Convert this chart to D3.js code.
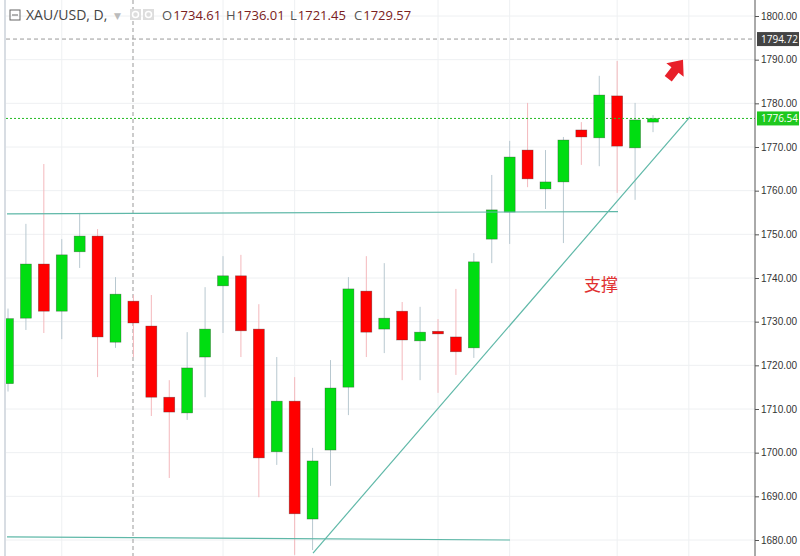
<!DOCTYPE html>
<html><head><meta charset="utf-8">
<script src="https://cdn.jsdelivr.net/npm/d3@7"></script>
<style>body{margin:0;background:#fff;font-family:"Open Sans","DejaVu Sans",sans-serif}</style>
</head><body><svg id="c" width="800" height="556"></svg>
<script>
const opens  = [1715.8,1730.8,1743.2,1732.4,1746.0,1749.6,1725.3,1734.7,1729.0,1712.7,1709.1,1721.9,1738.2,1740.5,1728.3,1700.2,1711.8,1684.8,1700.6,1715.0,1737.0,1728.3,1732.4,1725.6,1727.8,1726.5,1724.0,1748.9,1755.1,1769.3,1760.4,1762.0,1773.9,1772.1,1781.7,1769.8,1775.7];
const closes = [1730.7,1743.2,1732.4,1745.3,1749.6,1726.5,1736.3,1729.7,1712.7,1709.3,1719.4,1728.3,1740.5,1727.9,1698.8,1711.8,1686.0,1698.1,1714.8,1737.5,1727.6,1730.8,1725.8,1727.6,1727.2,1723.1,1743.7,1755.6,1767.7,1762.7,1762.0,1771.6,1772.3,1781.9,1770.2,1776.2,1776.5];
const highs  = [1733.0,1752.4,1766.1,1748.9,1754.9,1751.2,1740.2,1736.1,1736.1,1716.6,1727.6,1737.9,1745.0,1745.3,1734.0,1721.9,1717.3,1701.1,1721.2,1740.2,1745.0,1743.4,1734.5,1733.4,1730.6,1737.5,1745.7,1763.6,1771.4,1780.1,1769.3,1772.3,1775.7,1786.3,1789.7,1780.1,1777.3];
const lows   = [1714.0,1728.1,1727.4,1726.0,1742.3,1717.3,1724.0,1721.9,1708.4,1694.2,1707.5,1712.7,1727.4,1721.9,1689.8,1697.2,1676.6,1677.7,1692.4,1708.6,1721.9,1722.8,1716.6,1716.6,1713.7,1717.8,1721.7,1743.4,1747.8,1760.8,1755.8,1748.0,1765.9,1765.6,1759.5,1757.9,1773.4];
const yTicks = [1680,1690,1700,1710,1720,1730,1740,1750,1760,1770,1780,1790,1800];
const gridIdx = [3,12,16,24,28,34,38];
const lastPrice = 1776.54, markPrice = 1794.72;
const ohlcLabels = ["O","H","L","C"];
const ohlcValues = ["1734.61","1736.01","1721.45","1729.57"];

const svg = d3.select("#c");
const x = d3.scaleLinear().domain([0,36]).range([8,653]);
const y = d3.scaleLinear().domain([1680,1800]).range([540,16]);
const axisX = 755;
const g = svg.append("g");
g.append("defs").append("clipPath").attr("id","cp").append("rect").attr("x",6).attr("y",0).attr("width",axisX-6).attr("height",556);
g.selectAll(".hg").data(yTicks).join("line").attr("x1",6).attr("x2",axisX).attr("y1",d=>y(d)).attr("y2",d=>y(d)).attr("stroke","#eef0f2");
g.selectAll(".vg").data(gridIdx).join("line").attr("x1",d=>x(d)).attr("x2",d=>x(d)).attr("y1",0).attr("y2",556).attr("stroke","#eef0f2");
g.append("line").attr("x1",5).attr("x2",5).attr("y1",0).attr("y2",556).attr("stroke","#d8dde3").attr("stroke-width",2);
g.append("line").attr("x1",133).attr("x2",133).attr("y1",0).attr("y2",556).attr("stroke","#999").attr("stroke-dasharray","4,3");
g.append("line").attr("x1",6).attr("x2",axisX).attr("y1",y(markPrice)).attr("y2",y(markPrice)).attr("stroke","#999").attr("stroke-dasharray","4,3");
const c = g.append("g").attr("clip-path","url(#cp)");
const idx = d3.range(opens.length);
const col = i => closes[i]>=opens[i] ? "#00dd11" : "#ff0000";
const wcol = i => closes[i]>=opens[i] ? "#b8c8d0" : "#f4b8bc";
c.selectAll(".w").data(idx).join("line").attr("x1",i=>x(i)).attr("x2",i=>x(i)).attr("y1",i=>y(highs[i])).attr("y2",i=>y(lows[i])).attr("stroke",wcol);
c.selectAll(".b").data(idx).join("rect").attr("x",i=>x(i)-5.5).attr("width",11)
 .attr("y",i=>y(Math.max(opens[i],closes[i]))).attr("height",i=>Math.max(1.5,Math.abs(y(opens[i])-y(closes[i]))))
 .attr("fill",col).attr("stroke","#333").attr("stroke-opacity",0.5).attr("stroke-width",0.6);
const tl = "#5fb8a8";
c.append("line").attr("x1",7).attr("x2",618).attr("y1",y(1754.7)).attr("y2",y(1755.2)).attr("stroke",tl).attr("stroke-width",1.2);
c.append("line").attr("x1",7).attr("x2",510).attr("y1",y(1680.7)).attr("y2",y(1680.0)).attr("stroke",tl).attr("stroke-width",1.2);
c.append("line").attr("x1",313).attr("x2",690).attr("y1",y(1677)).attr("y2",y(1776.9)).attr("stroke",tl).attr("stroke-width",1.2);
g.append("line").attr("x1",6).attr("x2",axisX).attr("y1",y(lastPrice)).attr("y2",y(lastPrice)).attr("stroke","#22bb22").attr("stroke-dasharray","2,2");
g.append("path").attr("d","M0,-13 L11,0 L4.5,0 L4.5,11 L-4.5,11 L-4.5,0 L-11,0 Z").attr("fill","#e8202a").attr("transform","translate(675,70) rotate(38)");
g.append("text").attr("x",584).attr("y",291).attr("fill","#e03030").attr("font-size",17).attr("font-family","Noto Sans CJK SC").text("支撑");
g.append("rect").attr("x",axisX).attr("y",0).attr("width",45).attr("height",556).attr("fill","#fff");
g.append("line").attr("x1",axisX).attr("x2",axisX).attr("y1",0).attr("y2",556).attr("stroke","#555");
const ax = d3.axisRight(y).tickValues(yTicks).tickFormat(d3.format(".2f")).tickSize(4);
const ag = g.append("g").attr("transform",`translate(${axisX},0)`).call(ax);
ag.select(".domain").remove();
ag.selectAll("text").attr("font-size",10).attr("fill","#333").attr("x",6);
ag.selectAll("line").attr("stroke","#555");
[[markPrice,"#444"],[lastPrice,"#1ec81e"]].forEach(([v,f])=>{
  g.append("rect").attr("x",axisX+2).attr("y",y(v)-7).attr("width",42).attr("height",14).attr("fill",f);
  g.append("text").attr("x",axisX+6).attr("y",y(v)+4).attr("fill","#fff").attr("font-size",10).text(d3.format(".2f")(v));
});
// header
g.append("rect").attr("x",10).attr("y",10).attr("width",10).attr("height",10).attr("fill","none").attr("stroke","#666");
g.append("line").attr("x1",12).attr("x2",18).attr("y1",15).attr("y2",15).attr("stroke","#666");
g.append("text").attr("x",26).attr("y",20).attr("font-size",14).attr("fill","#444").text("XAU/USD, D,");
g.append("text").attr("x",114).attr("y",19).attr("font-size",9).attr("fill","#bbb").text("▼");
[130,143].forEach(px=>{g.append("rect").attr("x",px).attr("y",9).attr("width",11).attr("height",11).attr("fill","#ddd");
  g.append("circle").attr("cx",px+5.5).attr("cy",14.5).attr("r",3).attr("fill","none").attr("stroke","#fff").attr("stroke-width",1.5);});
ohlcLabels.forEach((l,i)=>{
  const t = g.append("text").attr("x",162+i*64).attr("y",20).attr("font-size",13);
  t.append("tspan").attr("fill","#555").text(l);
  t.append("tspan").attr("fill","#7a2020").attr("dx",1).text(ohlcValues[i]);
});
</script></body></html>
